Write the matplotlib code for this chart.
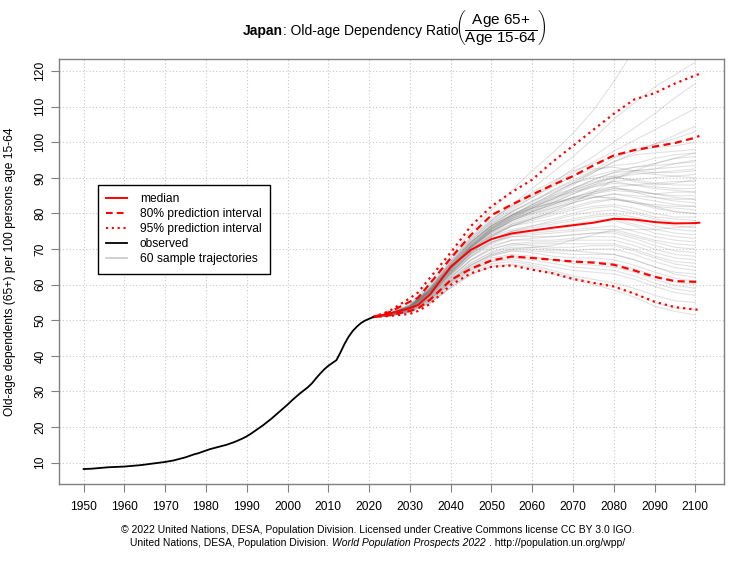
import matplotlib
matplotlib.use("Agg")
import matplotlib.pyplot as plt
from matplotlib import font_manager as fm
from matplotlib.lines import Line2D

# ---------------- data ----------------
OBS_YEARS = list(range(1950, 2022))
OBS_VALUES = [8.2, 8.25, 8.3, 8.4, 8.5, 8.6, 8.7, 8.75, 8.8, 8.85,
              8.9, 9.0, 9.1, 9.2, 9.3, 9.45, 9.6, 9.75, 9.9, 10.05,
              10.2, 10.4, 10.6, 10.9, 11.2, 11.5, 11.9, 12.3, 12.6, 13.0,
              13.4, 13.8, 14.1, 14.4, 14.7, 15.0, 15.4, 15.8, 16.3, 16.8,
              17.4, 18.1, 18.9, 19.7, 20.5, 21.4, 22.3, 23.3, 24.3, 25.3,
              26.3, 27.4, 28.4, 29.4, 30.3, 31.2, 32.3, 33.7, 35.0, 36.2,
              37.2, 38.0, 38.8, 41.0, 43.4, 45.4, 47.0, 48.2, 49.2, 49.9,
              50.4, 50.9]

PI_YEARS = [2021, 2025, 2030, 2032, 2035, 2040, 2045, 2050, 2055, 2060,
            2065, 2070, 2075, 2080, 2085, 2090, 2095, 2100, 2101]
MEDIAN = [50.9, 51.9, 53.4, 54.3, 57.3, 65.0, 69.8, 72.8, 74.4, 75.2,
          76.0, 76.7, 77.4, 78.5, 78.3, 77.6, 77.2, 77.3, 77.4]
PI80_LOW = [50.9, 51.5, 52.6, 53.3, 55.8, 61.3, 64.5, 66.8, 67.9, 67.5,
            67.0, 66.5, 66.2, 65.6, 64.0, 62.2, 61.0, 60.8, 60.8]
PI80_HIGH = [50.9, 52.3, 55.2, 56.3, 60.4, 67.4, 74.0, 79.5, 82.5, 85.3,
             88.0, 90.5, 93.5, 96.3, 97.8, 98.8, 99.8, 101.3, 101.8]
PI95_LOW = [50.9, 51.2, 51.8, 52.6, 54.6, 59.9, 63.2, 65.0, 65.4, 64.2,
            63.2, 61.6, 60.5, 59.5, 57.5, 55.2, 53.7, 53.0, 53.0]
PI95_HIGH = [50.9, 52.6, 56.2, 57.8, 62.0, 69.0, 76.5, 82.0, 86.0, 89.5,
             94.5, 99.0, 103.5, 108.0, 112.0, 113.8, 116.5, 118.8, 119.2]

SAMPLE_YEARS = list(range(2025, 2101, 5))
SAMPLES = [
    [51.8, 54.5, 60.5, 68.0, 75.0, 81.0, 86.5, 92.0, 97.0, 102.5, 109.0, 117.0, 126.0, 135.0, 141.0, 147.0],
    [51.6, 54.0, 59.5, 66.5, 73.0, 78.0, 82.5, 87.0, 91.5, 96.0, 101.0, 106.5, 111.0, 115.5, 119.0, 122.5],
    [51.9, 54.4, 60.0, 67.0, 73.5, 78.5, 82.0, 85.0, 88.5, 92.5, 96.0, 100.0, 104.0, 108.0, 112.5, 116.5],
    [52.0, 54.2, 59.0, 66.0, 72.5, 77.5, 81.0, 84.5, 88.0, 91.5, 94.5, 97.5, 100.5, 103.5, 106.5, 109.5],
    [51.8, 53.9, 58.8, 65.5, 72.0, 77.0, 80.5, 83.5, 86.5, 89.0, 91.5, 94.5, 97.0, 99.5, 102.0, 104.5],
    [51.7, 53.8, 58.5, 65.0, 71.2, 76.0, 79.5, 82.5, 85.5, 88.5, 92.0, 95.5, 98.0, 99.5, 101.0, 103.0],
    [51.9, 54.1, 59.2, 66.5, 73.0, 78.0, 82.0, 86.0, 89.0, 92.0, 94.0, 96.0, 97.5, 98.5, 99.0, 100.0],
    [51.6, 53.7, 58.0, 64.5, 70.5, 75.5, 79.0, 82.0, 85.0, 88.0, 91.5, 94.5, 96.5, 97.0, 97.5, 98.0],
    [51.8, 53.9, 58.6, 65.5, 71.8, 77.0, 80.5, 83.0, 86.5, 89.5, 92.0, 93.5, 94.0, 95.5, 96.5, 97.0],
    [51.7, 53.6, 58.2, 64.8, 71.0, 76.0, 79.5, 82.5, 85.0, 87.0, 89.5, 91.5, 93.0, 94.0, 95.5, 96.0],
    [51.9, 54.0, 59.0, 66.0, 72.5, 77.5, 81.5, 84.5, 87.5, 90.5, 92.5, 93.0, 92.0, 92.5, 94.0, 95.0],
    [51.8, 53.8, 58.4, 65.0, 71.5, 76.5, 80.0, 82.0, 84.0, 86.5, 88.5, 90.5, 92.0, 92.5, 93.0, 93.5],
    [51.6, 53.6, 57.8, 64.0, 70.5, 75.0, 78.5, 81.5, 84.5, 87.0, 89.0, 90.0, 91.0, 91.5, 91.5, 92.0],
    [51.7, 53.7, 58.3, 64.8, 71.0, 75.8, 79.0, 81.0, 83.0, 85.5, 88.0, 90.0, 91.5, 91.0, 90.5, 91.0],
    [51.8, 53.9, 58.8, 65.5, 72.0, 76.5, 79.5, 82.0, 84.5, 86.0, 87.5, 89.0, 89.5, 90.0, 90.5, 90.0],
    [51.5, 53.4, 57.5, 63.5, 69.5, 74.5, 78.0, 80.5, 83.0, 85.5, 87.5, 88.5, 88.0, 88.5, 89.0, 89.0],
    [51.8, 53.8, 58.5, 65.2, 71.5, 76.0, 79.0, 81.5, 84.0, 86.5, 88.5, 90.0, 89.5, 88.5, 88.0, 88.0],
    [51.7, 53.6, 58.0, 64.5, 70.8, 75.5, 78.5, 80.5, 82.5, 84.5, 86.0, 87.5, 88.0, 87.5, 87.0, 87.0],
    [51.6, 53.5, 57.7, 64.0, 70.0, 74.8, 78.0, 80.0, 82.0, 84.0, 85.5, 86.5, 86.0, 85.5, 86.0, 86.0],
    [51.9, 54.0, 59.0, 66.0, 72.0, 76.5, 79.5, 81.5, 83.0, 84.5, 86.0, 87.0, 86.5, 85.5, 85.0, 85.0],
    [51.7, 53.7, 58.2, 64.5, 70.5, 75.0, 78.0, 80.0, 81.5, 83.0, 84.5, 85.5, 85.0, 84.5, 84.0, 84.0],
    [51.8, 53.8, 58.5, 65.0, 71.0, 75.5, 78.5, 80.5, 82.5, 84.5, 86.5, 87.5, 86.0, 84.5, 83.5, 83.0],
    [51.6, 53.5, 57.8, 64.0, 69.8, 74.0, 77.0, 79.0, 81.0, 83.0, 84.5, 85.5, 84.5, 83.5, 82.5, 82.0],
    [51.7, 53.6, 58.0, 64.5, 70.5, 75.0, 78.0, 80.5, 82.5, 84.5, 85.0, 84.0, 83.0, 82.5, 82.0, 82.0],
    [51.5, 53.3, 57.2, 63.2, 69.0, 73.5, 76.5, 78.5, 80.5, 82.0, 83.5, 84.0, 83.0, 82.0, 81.5, 81.0],
    [51.8, 53.8, 58.4, 64.8, 70.5, 74.5, 77.0, 78.5, 80.0, 81.5, 83.0, 84.0, 83.5, 82.0, 80.5, 80.0],
    [51.6, 53.5, 57.6, 63.8, 69.5, 73.8, 76.5, 78.0, 79.5, 81.0, 82.0, 82.5, 81.5, 80.0, 79.0, 79.0],
    [51.7, 53.6, 58.0, 64.2, 70.0, 74.0, 76.5, 77.5, 78.5, 80.0, 81.5, 82.0, 80.5, 79.0, 78.5, 78.0],
    [51.5, 53.3, 57.0, 63.0, 68.5, 72.5, 75.0, 76.5, 78.0, 79.5, 80.5, 81.0, 80.0, 78.5, 77.5, 77.0],
    [51.8, 53.7, 58.3, 64.5, 70.0, 73.5, 75.5, 76.5, 77.5, 78.5, 79.5, 80.0, 79.0, 77.5, 76.5, 76.0],
    [51.6, 53.4, 57.4, 63.4, 69.0, 72.8, 75.0, 76.0, 77.0, 78.0, 79.0, 79.5, 78.0, 76.5, 75.5, 75.0],
    [51.7, 53.5, 57.7, 63.8, 69.2, 73.0, 75.0, 75.5, 76.0, 77.0, 78.0, 78.5, 77.0, 75.5, 74.5, 74.0],
    [51.4, 53.1, 56.7, 62.5, 68.0, 71.8, 74.0, 75.0, 75.5, 76.5, 77.5, 78.0, 76.5, 74.5, 73.5, 73.0],
    [51.6, 53.4, 57.3, 63.2, 68.5, 72.0, 74.0, 74.5, 75.0, 75.5, 76.0, 76.5, 75.0, 73.5, 72.5, 72.0],
    [51.5, 53.2, 56.9, 62.8, 68.0, 71.5, 73.5, 74.0, 74.5, 75.0, 75.5, 75.5, 74.0, 72.5, 71.5, 71.0],
    [51.7, 53.5, 57.5, 63.5, 68.8, 72.0, 73.5, 73.5, 73.5, 74.0, 74.5, 75.0, 73.5, 72.0, 70.5, 70.0],
    [51.4, 53.0, 56.5, 62.0, 67.0, 70.5, 72.5, 73.0, 73.5, 74.0, 74.5, 74.5, 73.0, 71.0, 69.5, 69.0],
    [51.6, 53.3, 57.0, 62.8, 67.8, 71.0, 72.5, 72.5, 72.5, 73.0, 73.5, 73.5, 72.0, 70.0, 68.5, 68.0],
    [51.5, 53.1, 56.6, 62.0, 66.8, 70.0, 71.5, 72.0, 72.0, 72.5, 72.5, 72.5, 71.0, 69.0, 67.5, 67.0],
    [51.4, 53.0, 56.3, 61.5, 66.2, 69.2, 71.0, 71.5, 71.5, 71.5, 71.5, 71.5, 70.0, 68.0, 66.5, 66.0],
    [51.5, 53.2, 56.8, 62.2, 67.0, 70.0, 71.5, 71.0, 70.5, 70.5, 71.0, 71.0, 69.5, 67.5, 65.8, 65.0],
    [51.3, 52.8, 56.0, 61.0, 65.5, 68.5, 70.0, 70.0, 69.5, 69.5, 70.0, 70.0, 68.5, 66.5, 64.8, 64.0],
    [51.4, 53.0, 56.3, 61.5, 66.0, 69.0, 70.5, 70.5, 70.0, 69.5, 69.0, 68.5, 67.0, 65.0, 63.5, 63.0],
    [51.3, 52.8, 55.9, 60.8, 65.0, 68.0, 69.5, 69.5, 69.0, 68.5, 68.5, 68.5, 67.0, 65.0, 63.0, 62.0],
    [51.4, 52.9, 56.2, 61.2, 65.5, 68.2, 69.5, 69.0, 68.0, 67.5, 67.5, 67.0, 65.5, 63.5, 61.8, 61.0],
    [51.2, 52.6, 55.6, 60.5, 64.5, 67.0, 68.0, 67.5, 67.0, 66.5, 66.5, 66.0, 64.5, 62.5, 60.8, 60.0],
    [51.3, 52.7, 55.8, 60.5, 64.8, 67.5, 68.5, 68.0, 67.0, 66.0, 65.5, 65.0, 63.5, 61.5, 59.8, 59.0],
    [51.2, 52.5, 55.3, 60.0, 64.0, 66.5, 67.5, 67.0, 66.0, 65.0, 64.5, 64.0, 62.5, 60.5, 58.8, 58.0],
    [51.3, 52.6, 55.5, 60.2, 64.2, 66.5, 67.0, 66.0, 65.0, 64.0, 63.5, 63.0, 61.5, 59.5, 57.8, 57.0],
    [51.2, 52.4, 55.0, 59.5, 63.5, 65.8, 66.5, 65.5, 64.0, 62.5, 61.5, 60.5, 59.0, 57.0, 55.5, 55.0],
    [51.1, 52.3, 54.8, 59.2, 63.0, 65.2, 65.8, 65.0, 63.5, 62.0, 60.5, 59.5, 57.5, 55.0, 53.5, 53.0],
    [51.2, 52.4, 55.0, 59.0, 62.8, 65.0, 65.5, 64.5, 63.0, 61.5, 60.0, 58.5, 56.5, 54.0, 52.5, 51.5],
    [51.8, 53.9, 58.7, 65.3, 71.5, 76.5, 80.5, 83.5, 86.0, 88.5, 90.5, 92.0, 93.0, 93.5, 94.0, 94.5],
    [51.7, 53.7, 58.2, 64.6, 70.8, 75.8, 79.5, 82.5, 85.5, 88.5, 90.0, 90.5, 89.0, 88.0, 88.5, 89.5],
    [51.6, 53.6, 57.9, 64.2, 70.2, 75.0, 78.5, 81.0, 83.5, 86.0, 88.0, 89.0, 88.0, 87.0, 86.5, 86.0],
    [51.8, 53.8, 58.4, 64.9, 70.8, 75.0, 77.5, 79.5, 81.5, 83.5, 85.5, 87.0, 86.5, 85.5, 84.5, 84.0],
    [51.7, 53.7, 58.1, 64.4, 70.5, 75.5, 79.0, 81.5, 84.0, 87.0, 89.5, 91.5, 92.0, 91.5, 92.0, 92.5],
    [51.9, 54.1, 59.2, 66.0, 72.0, 76.5, 79.5, 81.5, 83.0, 84.0, 84.5, 84.5, 83.0, 81.5, 80.5, 80.0],
    [51.5, 53.3, 57.2, 63.2, 69.0, 73.5, 76.5, 78.5, 80.5, 83.0, 86.0, 89.5, 92.0, 94.0, 95.5, 97.0],
    [51.3, 52.8, 56.0, 61.0, 65.5, 68.5, 70.0, 70.5, 71.0, 72.5, 74.0, 75.5, 75.5, 75.5, 76.0, 76.5],
]

X_TICKS = list(range(1950, 2101, 10))
Y_TICKS = list(range(10, 121, 10))
LEGEND_LABELS = ["median", "80% prediction interval", "95% prediction interval",
                 "observed", "60 sample trajectories"]
TITLE_BOLD = "Japan"
TITLE_REST = ": Old-age Dependency Ratio"
Y_LABEL = "Old-age dependents (65+) per 100 persons age 15-64"
FOOTER1 = "\u00a9 2022 United Nations, DESA, Population Division. Licensed under Creative Commons license CC BY 3.0 IGO."
FOOTER2A = "United Nations, DESA, Population Division."
FOOTER2B = "World Population Prospects 2022"
FOOTER2C = ". http://population.un.org/wpp/"

# ---------------- style ----------------
plt.rcParams['font.family'] = ['Liberation Sans', 'DejaVu Sans']
plt.rcParams['mathtext.fontset'] = 'custom'
plt.rcParams['mathtext.rm'] = 'Liberation Sans'
plt.rcParams['mathtext.it'] = 'Liberation Sans:italic'
plt.rcParams['mathtext.bf'] = 'Liberation Sans:bold'

names = {f.name for f in fm.fontManager.ttflist}
narrow = 'Liberation Sans Narrow' if 'Liberation Sans Narrow' in names else 'Liberation Sans'

W, H = 755, 566
fig = plt.figure(figsize=(W / 100, H / 100), dpi=100)
ax_l, ax_r, ax_t, ax_b = 59, 724, 59, 484
ax = fig.add_axes([ax_l / W, 1 - ax_b / H, (ax_r - ax_l) / W, (ax_b - ax_t) / H])

GRID = '#c8c8c8'
FRAME = '#808080'

ax.set_xlim(1943.96, 2107.04)
ax.set_ylim(4.0, 123.4)
ax.set_xticks(X_TICKS)
ax.set_yticks(Y_TICKS)
ax.set_xticklabels([str(v) for v in X_TICKS])
ax.set_yticklabels([str(v) for v in Y_TICKS])
ax.grid(True, color=GRID, linestyle=(0, (1, 2)), linewidth=0.8)
ax.set_axisbelow(True)
for s in ax.spines.values():
    s.set_color(FRAME)
    s.set_linewidth(1.0)
ax.tick_params(axis='both', length=6, width=0.8, color=FRAME, labelsize=8.64)
ax.tick_params(axis='x', pad=6)
ax.tick_params(axis='y', pad=3, labelrotation=90)
for lab in ax.get_yticklabels():
    lab.set_va('center')

# sample trajectories
start_y = OBS_VALUES[-1]
start_x = OBS_YEARS[-1]
for row in SAMPLES:
    ax.plot([start_x] + SAMPLE_YEARS, [start_y] + row, color='#7a7a7a', alpha=0.22,
            linewidth=0.8, zorder=2)

RED = '#ff0000'
DOT = (0, (1, 1.8))
DASH = (0, (3.2, 2.0))
ax.plot(PI_YEARS, PI95_HIGH, color=RED, linewidth=1.6, linestyle=DOT, zorder=3)
ax.plot(PI_YEARS, PI95_LOW, color=RED, linewidth=1.6, linestyle=DOT, zorder=3)
ax.plot(PI_YEARS, PI80_HIGH, color=RED, linewidth=1.6, linestyle=DASH, zorder=3)
ax.plot(PI_YEARS, PI80_LOW, color=RED, linewidth=1.6, linestyle=DASH, zorder=3)
ax.plot(PI_YEARS, MEDIAN, color=RED, linewidth=1.4, zorder=4)
ax.plot(OBS_YEARS, OBS_VALUES, color='black', linewidth=1.3, zorder=5)

handles = [
    Line2D([], [], color=RED, linewidth=1.4),
    Line2D([], [], color=RED, linewidth=1.5, linestyle=DASH),
    Line2D([], [], color=RED, linewidth=1.5, linestyle=DOT),
    Line2D([], [], color='black', linewidth=1.3),
    Line2D([], [], color='#c8c8c8', linewidth=1.2),
]
leg = ax.legend(handles, LEGEND_LABELS, loc='upper left',
                bbox_to_anchor=((98 - ax_l) / (ax_r - ax_l), (ax_b - 185) / (ax_b - ax_t)),
                fontsize=8.64, frameon=True, fancybox=False, framealpha=1,
                edgecolor='black', handlelength=1.7, handletextpad=1.1,
                labelspacing=0.25, borderpad=0.7, borderaxespad=0)
leg.get_frame().set_linewidth(1.0)

ax.set_ylabel(Y_LABEL, fontsize=8.64)
ax.yaxis.set_label_coords(-(ax_l - 16) / (ax_r - ax_l), 0.5)

# ---------------- title ----------------
renderer = fig.canvas.get_renderer()
title_base = 1 - 35 / H
t1 = fig.text(0, title_base, TITLE_BOLD, fontsize=10, fontweight='bold', va='baseline')
t2 = fig.text(0, title_base, TITLE_REST, fontsize=10, va='baseline')
frac = r"$\left(\dfrac{\mathrm{Age\ 65{+}}}{\mathrm{Age\ 15\text{-}64}}\right)$"
t3 = fig.text(0, title_base, frac, fontsize=11, va='baseline')
w1 = t1.get_window_extent(renderer).width
w2 = t2.get_window_extent(renderer).width
w3 = t3.get_window_extent(renderer).width
tighten = 4
x0 = (ax_l + ax_r) / 2 - (w1 + w2 + w3 - tighten) / 2 + 3
t1.set_x(x0 / W)
t2.set_x((x0 + w1) / W)
t3.set_x((x0 + w1 + w2 - tighten) / W)

# ---------------- footer ----------------
f1 = fig.text(0.5, 1 - 530 / H, FOOTER1, fontsize=7.2, family=narrow, ha='center', va='center')
fw = f1.get_window_extent(renderer).width
f1.set_fontsize(7.2 * 511 / fw)
fs = f1.get_fontsize()
y2 = 1 - 543 / H
a = fig.text(0, y2, FOOTER2A, fontsize=fs, family=narrow, va='center')
b = fig.text(0, y2, FOOTER2B, fontsize=fs, family=narrow, style='italic', va='center')
c = fig.text(0, y2, FOOTER2C, fontsize=fs, family=narrow, va='center')
wa = a.get_window_extent(renderer).width
wb = b.get_window_extent(renderer).width
wc = c.get_window_extent(renderer).width
gap = 3
xs = W / 2 - (wa + wb + wc + 2 * gap) / 2
a.set_x(xs / W)
b.set_x((xs + wa + gap) / W)
c.set_x((xs + wa + wb + 2 * gap) / W)

fig.savefig('out.png', dpi=100)
